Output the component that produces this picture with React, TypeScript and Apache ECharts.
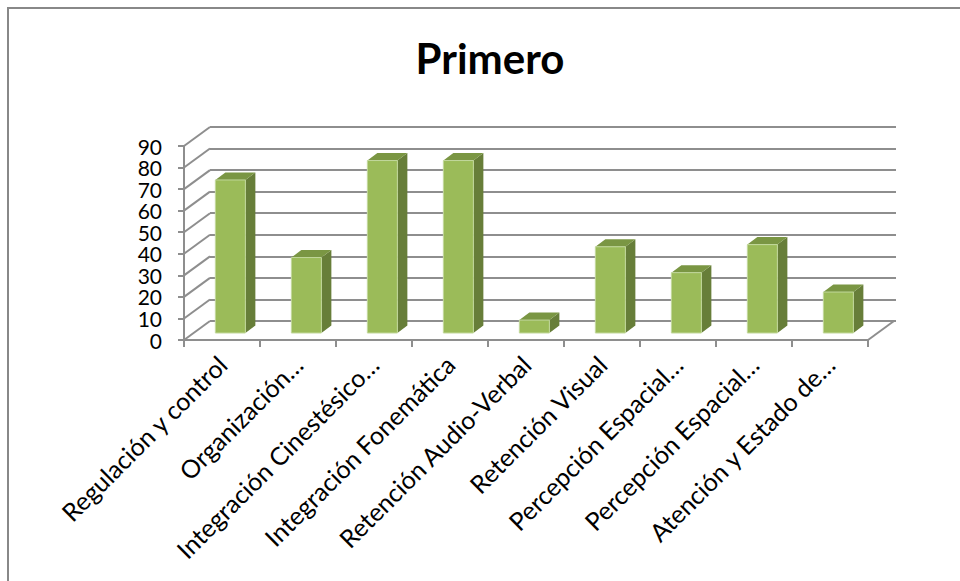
import React, { useEffect, useRef } from "react";
import * as echarts from "echarts";

const categories = [
  "Regulación y control",
  "Organización…",
  "Integración Cinestésico…",
  "Integración Fonemática",
  "Retención Audio-Verbal",
  "Retención Visual",
  "Percepción Espacial…",
  "Percepción Espacial…",
  "Atención y Estado de…",
];
const values = [71, 35, 80, 80, 6, 40, 28, 41, 19];
const yTicks = [0, 10, 20, 30, 40, 50, 60, 70, 80, 90];
const yTickLabels = ["0", "10", "20", "30", "40", "50", "60", "70", "80", "90"];
const chartTitle = "Primero";

const GRAY = "#8E8E8E";
const DEPTH_X = 26;
const DEPTH_Y = 19;
const FONT = "Lato";

export default function App() {
  const ref = useRef<HTMLDivElement>(null);
  useEffect(() => {
    document.body.style.margin = "0";
    const chart = echarts.init(ref.current!, null, { renderer: "svg" });
    const option: any = {
      animation: false,
      backgroundColor: "#fff",
      graphic: [
        {
          type: "rect",
          shape: { x: 8, y: 8, width: 1000, height: 1000 },
          style: { fill: "none", stroke: "#888", lineWidth: 2 },
          z: 0,
        },
        {
          type: "text",
          x: 490,
          y: 58,
          style: {
            text: chartTitle,
            font: `bold 42px ${FONT}`,
            fill: "#000",
            align: "center",
            verticalAlign: "middle",
          },
        },
      ],
      grid: [
        { left: 210, top: 127, width: 686, height: 194, containLabel: false },
        { left: 184, top: 146, width: 684, height: 194, containLabel: false },
      ],
      xAxis: [
        {
          gridIndex: 0,
          type: "category",
          data: categories,
          show: false,
        },
        {
          gridIndex: 1,
          type: "category",
          data: categories,
          axisLine: { show: true, lineStyle: { color: GRAY, width: 2 } },
          axisTick: { show: true, length: 7, lineStyle: { color: GRAY, width: 2 } },
          axisLabel: {
            interval: 0,
            rotate: 45,
            margin: 20,
            fontSize: 25,
            fontFamily: FONT,
            color: "#000",
          },
        },
      ],
      yAxis: [
        {
          gridIndex: 0,
          type: "value",
          min: 0,
          max: 90,
          interval: 10,
          axisLine: { show: false },
          axisTick: { show: false },
          axisLabel: { show: false },
          splitLine: { show: true, lineStyle: { color: GRAY, width: 2 } },
        },
        {
          gridIndex: 1,
          type: "value",
          min: 0,
          max: 90,
          interval: 10,
          axisLine: { show: true, lineStyle: { color: GRAY, width: 2 } },
          axisTick: { show: true, length: 6, lineStyle: { color: GRAY, width: 2 } },
          axisLabel: { show: false },
          splitLine: { show: false },
        },
      ],
      series: [
        {
          type: "custom",
          name: "yLabels",
          xAxisIndex: 1,
          yAxisIndex: 1,
          clip: false,
          silent: true,
          data: yTicks.map((t, i) => [0, t, i]),
          renderItem: (params: any, api: any) => {
            const p = api.coord([api.value(0), api.value(1)]);
            const band = api.size([1, 0])[0];
            const x = p[0] - band / 2 - 22;
            return {
              type: "text",
              x,
              y: p[1],
              style: {
                text: yTickLabels[api.value(2)],
                font: `21px ${FONT}`,
                fill: "#000",
                align: "right",
                verticalAlign: "middle",
              },
            };
          },
        },
        {
          type: "custom",
          name: "wall",
          xAxisIndex: 1,
          yAxisIndex: 1,
          clip: false,
          silent: true,
          data: yTicks.map((t) => [0, t]),
          renderItem: (params: any, api: any) => {
            const p = api.coord([api.value(0), api.value(1)]);
            const band = api.size([1, 0])[0];
            const x = p[0] - band / 2;
            return {
              type: "line",
              shape: { x1: x, y1: p[1], x2: x + DEPTH_X, y2: p[1] - DEPTH_Y },
              style: { stroke: GRAY, lineWidth: 2 },
            };
          },
        },
        {
          type: "custom",
          name: "floor",
          xAxisIndex: 1,
          yAxisIndex: 1,
          clip: false,
          silent: true,
          data: [[categories.length - 1, 0]],
          renderItem: (params: any, api: any) => {
            const p = api.coord([api.value(0), api.value(1)]);
            const band = api.size([1, 0])[0];
            const x = p[0] + band / 2;
            return {
              type: "line",
              shape: { x1: x, y1: p[1], x2: x + DEPTH_X, y2: p[1] - DEPTH_Y },
              style: { stroke: GRAY, lineWidth: 2 },
            };
          },
        },
        {
          type: "custom",
          name: "Primero",
          xAxisIndex: 1,
          yAxisIndex: 1,
          clip: false,
          data: values.map((v, i) => [i, v]),
          renderItem: (params: any, api: any) => {
            const idx = api.value(0);
            const v = api.value(1);
            const base = api.coord([idx, 0]);
            const top = api.coord([idx, v]);
            const band = api.size([1, 0])[0];
            const w = band * 0.395;
            const cx = base[0] + band * 0.11;
            const x0 = cx - w / 2;
            const x1 = cx + w / 2;
            const yb = base[1] - 7;
            const yt = top[1] - 7;
            const dx = 10;
            const dy = 7.5;
            return {
              type: "group",
              children: [
                {
                  type: "polygon",
                  shape: { points: [[x1, yt], [x1 + dx, yt - dy], [x1 + dx, yb - dy], [x1, yb]] },
                  style: { fill: "#677E39" },
                },
                {
                  type: "polygon",
                  shape: { points: [[x0, yt], [x0 + dx, yt - dy], [x1 + dx, yt - dy], [x1, yt]] },
                  style: { fill: "#7A9643" },
                },
                {
                  type: "rect",
                  shape: { x: x0, y: yt, width: w, height: yb - yt },
                  style: { fill: "#9BBB59", stroke: "#C2D89C", lineWidth: 1 },
                },
              ],
            };
          },
        },
      ],
    };
    chart.setOption(option);
    return () => chart.dispose();
  }, []);
  return <div ref={ref} style={{ width: 960, height: 581 }} />;
}
